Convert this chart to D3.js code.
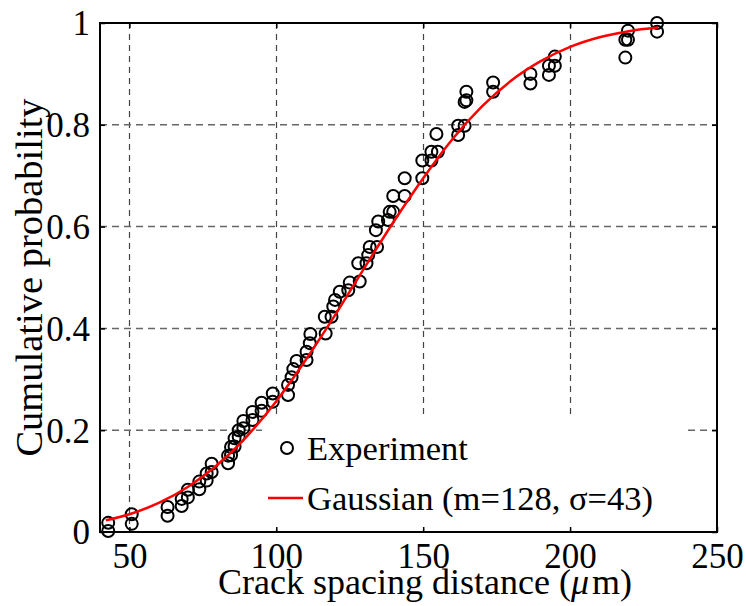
<!DOCTYPE html>
<html>
<head>
<meta charset="utf-8">
<script src="https://cdn.jsdelivr.net/npm/d3@7"></script>
<style>
	body { margin: 0; background: #fff; }
	svg { display: block; font-family: 'Liberation Serif', 'Times New Roman', serif; }
</style>
</head>
<body>
<svg id="chart"></svg>
<script>
// Tick values
const xTicks = [50, 100, 150, 200, 250];
const yTicks = [0, 0.2, 0.4, 0.6, 0.8, 1];

// Experiment: crack spacing (um) vs cumulative probability
const expX = [
	42.8, 42.8, 50.8, 50.8, 63.0, 63.0, 67.8, 67.8, 69.9, 69.9,
	73.8, 73.8, 76.3, 76.3, 78.0, 78.0, 83.6, 83.6, 84.6, 84.6,
	85.8, 85.8, 87.2, 87.2, 88.8, 88.8, 91.9, 91.9, 95.0, 95.0,
	98.8, 98.8, 104.0, 104.0, 105.2, 105.8, 106.9, 110.3, 110.3, 111.4,
	111.6, 116.8, 116.5, 118.8, 119.4, 120.0, 121.6, 124.5, 125.0, 128.4,
	127.9, 130.7, 131.3, 131.8, 134.3, 133.9, 134.7, 138.0, 138.6, 139.8,
	139.8, 143.7, 143.7, 149.7, 149.7, 152.8, 152.8, 155.0, 154.5, 161.9,
	161.9, 164.1, 164.1, 164.7, 164.7, 173.8, 173.8, 186.5, 186.5, 192.8,
	192.8, 194.8, 194.8, 218.8, 218.8, 219.7, 219.7, 229.6, 229.6
];
const expY = [
	0.002, 0.018, 0.016, 0.035, 0.032, 0.049, 0.051, 0.065, 0.068, 0.083,
	0.084, 0.099, 0.101, 0.115, 0.118, 0.134, 0.135, 0.150, 0.151, 0.167,
	0.168, 0.184, 0.187, 0.200, 0.204, 0.218, 0.220, 0.236, 0.238, 0.254,
	0.256, 0.272, 0.269, 0.289, 0.304, 0.320, 0.336, 0.338, 0.354, 0.371,
	0.389, 0.390, 0.423, 0.423, 0.443, 0.456, 0.472, 0.475, 0.490, 0.492,
	0.528, 0.528, 0.544, 0.560, 0.560, 0.593, 0.610, 0.613, 0.629, 0.629,
	0.660, 0.660, 0.695, 0.695, 0.730, 0.730, 0.747, 0.747, 0.782, 0.780,
	0.798, 0.798, 0.845, 0.848, 0.865, 0.865, 0.883, 0.881, 0.900, 0.898,
	0.916, 0.916, 0.934, 0.932, 0.967, 0.967, 0.985, 0.983, 1.000
];

// Gaussian fit curve (m=128, sigma=43)
const fitX = [42, 50, 60, 70, 80, 90, 100, 110, 120, 130, 140, 150, 160, 170, 180, 190, 200, 210, 220, 230];
const fitY = [0.023, 0.035, 0.057, 0.089, 0.132, 0.188, 0.257, 0.338, 0.426, 0.519, 0.610, 0.695, 0.772, 0.836, 0.887, 0.925, 0.953, 0.972, 0.984, 0.991];

const legendLabels = ['Experiment', 'Gaussian (m=128, σ=43)'];

class CdfChart {
	constructor(_config) {
		this.config = {
			parentElement: _config.parentElement,
			containerWidth: _config.containerWidth || 746,
			containerHeight: _config.containerHeight || 606,
			margin: { top: 23, right: 29, bottom: 74, left: 100 },
		};
		this.initVis();
	}

	initVis() {
		let vis = this;

		vis.width = vis.config.containerWidth - vis.config.margin.left - vis.config.margin.right;
		vis.height = vis.config.containerHeight - vis.config.margin.top - vis.config.margin.bottom;

		vis.xScale = d3.scaleLinear().domain([40, 250]).range([0, vis.width]);
		vis.yScale = d3.scaleLinear().domain([0, 1]).range([vis.height, 0]);

		vis.svg = d3.select(vis.config.parentElement)
			.attr('width', vis.config.containerWidth)
			.attr('height', vis.config.containerHeight);

		vis.chart = vis.svg.append('g')
			.attr('transform', `translate(${vis.config.margin.left},${vis.config.margin.top})`);

		vis.renderVis();
	}

	renderVis() {
		let vis = this;
		const tickFont = 35;
		const legendFont = 34.5;

		// Dashed grid lines
		vis.chart.append('g')
			.selectAll('line')
			.data(xTicks.filter((d) => d < 250))
			.join('line')
			.attr('x1', (d) => Math.round(vis.xScale(d)) + 0.5)
			.attr('x2', (d) => Math.round(vis.xScale(d)) + 0.5)
			.attr('y1', 0)
			.attr('y2', vis.height)
			.attr('stroke', '#444')
			.attr('stroke-width', 1.2)
			.attr('stroke-dasharray', '6,5');

		vis.chart.append('g')
			.selectAll('line')
			.data(yTicks.filter((d) => d > 0 && d < 1))
			.join('line')
			.attr('x1', 0)
			.attr('x2', vis.width)
			.attr('y1', (d) => vis.yScale(d))
			.attr('y2', (d) => vis.yScale(d))
			.attr('stroke', '#666')
			.attr('stroke-width', 1.5)
			.attr('stroke-dasharray', '7,5');

		// Legend background hides the grid behind it (no border)
		vis.chart.append('rect')
			.attr('x', 162)
			.attr('y', 392)
			.attr('width', 425)
			.attr('height', 111)
			.attr('fill', '#fff');

		// Experiment markers
		const pts = expX.map((x, i) => ({ x: x, y: expY[i] }));
		vis.chart.append('g')
			.selectAll('circle')
			.data(pts)
			.join('circle')
			.attr('cx', (d) => vis.xScale(d.x))
			.attr('cy', (d) => vis.yScale(d.y))
			.attr('r', 6)
			.attr('fill', 'none')
			.attr('stroke', '#000')
			.attr('stroke-width', 2);

		// Gaussian curve
		const fit = fitX.map((x, i) => ({ x: x, y: fitY[i] }));
		vis.chart.append('path')
			.datum(fit)
			.attr('fill', 'none')
			.attr('stroke', '#ff0000')
			.attr('stroke-width', 2.5)
			.attr('d', d3.line()
				.x((d) => vis.xScale(d.x))
				.y((d) => vis.yScale(d.y))
				.curve(d3.curveMonotoneX));

		// Legend entries
		const lg = vis.chart.append('g').attr('class', 'legend');
		lg.append('circle')
			.attr('cx', 187)
			.attr('cy', 425)
			.attr('r', 6)
			.attr('fill', 'none')
			.attr('stroke', '#000')
			.attr('stroke-width', 2);
		lg.append('line')
			.attr('x1', 168)
			.attr('x2', 203)
			.attr('y1', 475)
			.attr('y2', 475)
			.attr('stroke', '#ff0000')
			.attr('stroke-width', 2.5);
		lg.selectAll('text')
			.data(legendLabels)
			.join('text')
			.attr('x', 207)
			.attr('y', (d, i) => 437 + i * 50)
			.style('font-size', legendFont + 'px')
			.text((d) => d);

		// Axes with inward ticks on all sides
		const xAxis = d3.axisBottom(vis.xScale).tickValues(xTicks).tickSizeInner(-5).tickSizeOuter(0).tickPadding(11);
		const yAxis = d3.axisLeft(vis.yScale).tickValues(yTicks).tickSizeInner(-5).tickSizeOuter(0).tickPadding(10)
			.tickFormat((d) => d3.format('~g')(d));

		const xG = vis.chart.append('g')
			.attr('transform', `translate(0,${vis.height})`)
			.call(xAxis);
		const yG = vis.chart.append('g').call(yAxis);

		[xG, yG].forEach((g) => {
			g.select('.domain').remove();
			g.selectAll('.tick line').attr('stroke', '#000').attr('stroke-width', 1.5);
			g.selectAll('.tick text')
				.attr('fill', '#000')
				.style('font-family', "'Liberation Serif', serif")
				.style('font-size', tickFont + 'px');
		});
		xG.selectAll('.tick text').attr('dy', '0.71em');
		yG.selectAll('.tick text').attr('dy', '0.34em');

		vis.chart.append('g')
			.call(d3.axisTop(vis.xScale).tickValues(xTicks).tickSizeInner(-5).tickSizeOuter(0).tickFormat(''))
			.call((g) => g.select('.domain').remove())
			.selectAll('.tick line').attr('stroke-width', 1.5);
		vis.chart.append('g')
			.attr('transform', `translate(${vis.width},0)`)
			.call(d3.axisRight(vis.yScale).tickValues(yTicks).tickSizeInner(-5).tickSizeOuter(0).tickFormat(''))
			.call((g) => g.select('.domain').remove())
			.selectAll('.tick line').attr('stroke-width', 1.5);

		// Axes box
		vis.chart.append('rect')
			.attr('x', 0)
			.attr('y', 0)
			.attr('width', vis.width)
			.attr('height', vis.height)
			.attr('fill', 'none')
			.attr('stroke', '#000')
			.attr('stroke-width', 2);

		// Axis titles
		const xt = vis.svg.append('text')
			.attr('x', 425)
			.attr('y', 594)
			.attr('text-anchor', 'middle')
			.style('font-size', '36px');
		xt.append('tspan').text('Crack spacing distance (');
		xt.append('tspan').style('font-style', 'italic').text('μ');
		xt.append('tspan').attr('dx', 3).text('m)');

		vis.svg.append('text')
			.attr('transform', `translate(42,${vis.config.margin.top + vis.height / 2}) rotate(-90)`)
			.attr('text-anchor', 'middle')
			.style('font-size', '38.5px')
			.text('Cumulative probability');
	}
}

new CdfChart({ parentElement: '#chart' });
</script>
</body>
</html>
